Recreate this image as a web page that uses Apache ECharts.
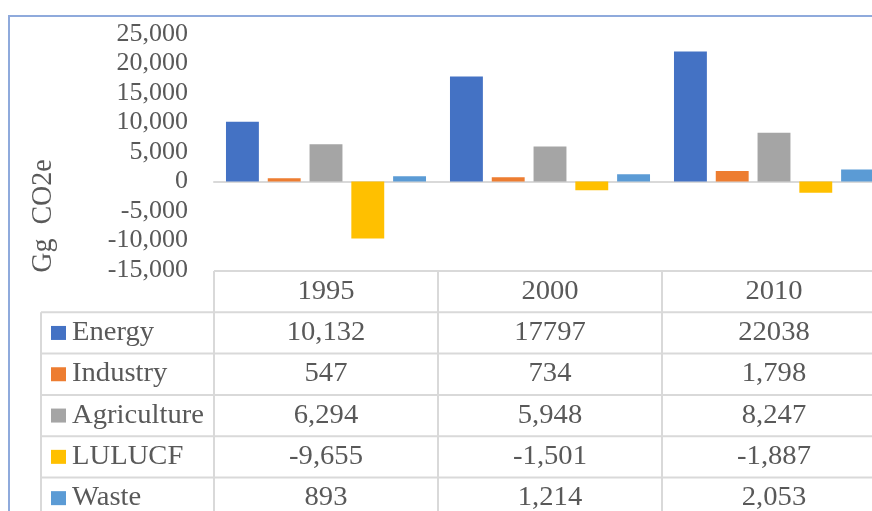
<!DOCTYPE html>
<html><head><meta charset="utf-8">
<script src="https://cdn.jsdelivr.net/npm/echarts@6/dist/echarts.min.js"></script>
<style>html,body{margin:0;padding:0;background:#fff}#c{width:872px;height:511px}</style>
</head><body><div id="c"></div>
<script>
// ---- data ----
const years = ['1995', '2000', '2010'];
const seriesNames = ['Energy', 'Industry', 'Agriculture', 'LULUCF', 'Waste'];
const energy = [10132, 17797, 22038];
const industry = [547, 734, 1798];
const agriculture = [6294, 5948, 8247];
const lulucf = [-9655, -1501, -1887];
const waste = [893, 1214, 2053];
// data-table labels as printed in the source table
const energyLabels = ['10,132', '17797', '22038'];
const industryLabels = ['547', '734', '1,798'];
const agricultureLabels = ['6,294', '5,948', '8,247'];
const lulucfLabels = ['-9,655', '-1,501', '-1,887'];
const wasteLabels = ['893', '1,214', '2,053'];
const yTitle = 'Gg  CO2e';

const seriesValues = [energy, industry, agriculture, lulucf, waste];
const seriesLabels = [energyLabels, industryLabels, agricultureLabels, lulucfLabels, wasteLabels];
const colors = ['#4472C4', '#ED7D31', '#A5A5A5', '#FFC000', '#5B9BD5'];

const FONT = 'Liberation Serif, Times New Roman, serif';
const TXT = '#595959';
const LINE = '#d9d9d9';

const chart = echarts.init(document.getElementById('c'), null, { renderer: 'canvas' });
chart.setOption({
  animation: false,
  backgroundColor: '#ffffff',
  grid: { left: 214, top: 34, width: 672, height: 236, containLabel: false, outerBoundsMode: 'none' },
  xAxis: {
    type: 'category', data: years,
    axisLine: { onZero: true, lineStyle: { color: LINE, width: 2 } },
    axisTick: { show: false }, axisLabel: { show: false }, splitLine: { show: false }
  },
  yAxis: {
    type: 'value', min: -15000, max: 25000, interval: 5000,
    axisLine: { show: false }, axisTick: { show: false }, splitLine: { show: false },
    axisLabel: { fontFamily: FONT, fontSize: 26, color: TXT, margin: 26 }
  },
  series: seriesNames.map((n, i) => ({
    name: n, type: 'bar', data: seriesValues[i],
    itemStyle: { color: colors[i] },
    barGap: '27%', barCategoryGap: '10.7%'
  }))
});

// ---- data table built from axis positions ----
const cx = years.map(y => chart.convertToPixel({ xAxisIndex: 0 }, y));
const catW = cx[1] - cx[0];
const leftB = cx[0] - catW / 2;
const rightB = cx[cx.length - 1] + catW / 2;
const tTop = chart.convertToPixel({ yAxisIndex: 0 }, -15000) + 1;
const rowH = 41.3;
const legL = leftB - 173;
const nRows = seriesNames.length;
const tBot = tTop + rowH * (nRows + 1);

const g = [];
// outer chart border
g.push({ type: 'rect', shape: { x: 9, y: 16, width: 1000, height: 1000 }, style: { fill: null, stroke: '#8FAADC', lineWidth: 2 }, z: 100 });
// horizontal lines
g.push({ type: 'line', shape: { x1: leftB, y1: tTop, x2: rightB, y2: tTop }, style: { stroke: LINE, lineWidth: 2 } });
for (let r = 1; r <= nRows + 1; r++) {
  const y = tTop + rowH * r;
  g.push({ type: 'line', shape: { x1: legL, y1: y, x2: rightB, y2: y }, style: { stroke: LINE, lineWidth: 2 } });
}
// vertical lines
g.push({ type: 'line', shape: { x1: legL, y1: tTop + rowH, x2: legL, y2: tBot }, style: { stroke: LINE, lineWidth: 2 } });
for (let i = 0; i <= years.length; i++) {
  const x = leftB + catW * i;
  g.push({ type: 'line', shape: { x1: x, y1: tTop, x2: x, y2: tBot }, style: { stroke: LINE, lineWidth: 2 } });
}
const txt = (text, x, y, align) => ({
  type: 'text', x: x, y: y, scaleX: 1.06,
  style: { text: text, fontFamily: FONT, fontSize: 27, fill: TXT, align: align, verticalAlign: 'middle' }
});
years.forEach((yr, i) => g.push(txt(yr, cx[i], tTop + rowH / 2, 'center')));
seriesNames.forEach((n, r) => {
  const yc = tTop + rowH * (r + 1) + rowH / 2;
  g.push({ type: 'rect', shape: { x: legL + 10, y: yc - 7, width: 15, height: 14 }, style: { fill: colors[r] } });
  g.push(txt(n, legL + 31, yc, 'left'));
  seriesLabels[r].forEach((lab, i) => g.push(txt(lab, cx[i], yc, 'center')));
});
// y axis title
g.push({
  type: 'text', x: 43, y: 216, rotation: Math.PI / 2, scaleY: 1.05,
  style: { text: yTitle, fontFamily: FONT, fontSize: 28, fill: TXT, align: 'center', verticalAlign: 'middle' }
});
chart.setOption({ graphic: g });
</script>
</body></html>
